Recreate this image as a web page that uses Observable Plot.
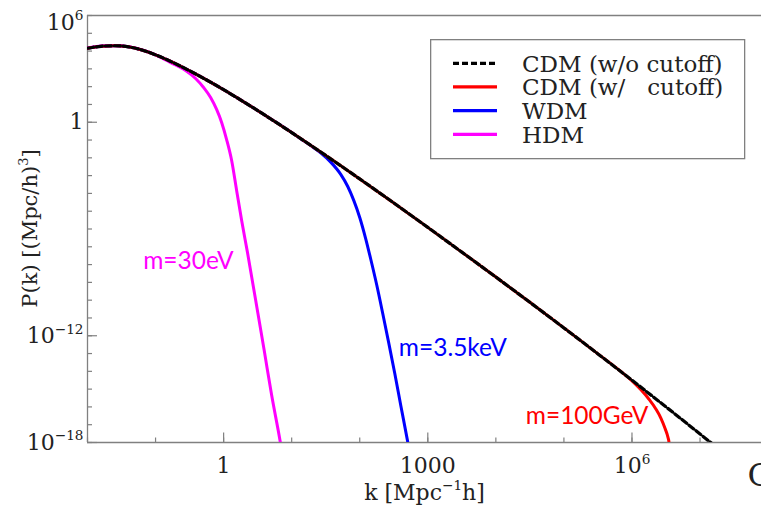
<!DOCTYPE html>
<html><head><meta charset="utf-8">
<script src="https://cdn.jsdelivr.net/npm/d3@7"></script>
<script src="https://cdn.jsdelivr.net/npm/@observablehq/plot@0.6"></script>
<style>
html,body{margin:0;padding:0;background:#fff;}
#chart{position:relative;width:761px;height:512px;overflow:hidden;background:#fff;}
#legend{position:absolute;left:430px;top:39px;}
#ytitle{position:absolute;left:0;top:0;pointer-events:none;}
</style></head><body><div id="chart"></div>
<script>
// ---- axes ----
const xDomain = [1e-2, 8e7];
const yDomain = [1e-18, 1e6];
const xMinorTicks = [1e-2, 1e-1, 1, 1e1, 1e2, 1e3, 1e4, 1e5, 1e6, 1e7];
const xMajorTicks = [1, 1e3, 1e6];
const xTickLabels = ["1", "1000", "10^{6}"];
const yMinorTicks = [1e-18, 1e-17, 1e-16, 1e-15, 1e-14, 1e-13, 1e-12, 1e-11, 1e-10, 1e-9, 1e-8, 1e-7, 1e-6, 1e-5, 1e-4, 1e-3, 1e-2, 1e-1, 1, 1e1, 1e2, 1e3, 1e4, 1e5, 1e6];
const yMajorTicks = [1, 1e-12, 1e-18];
const yMajorLabels = ["1", "10^{\u221212}", "10^{\u221218}"];
const yTopTick = [1e6];
const yTopLabel = ["10^{6}"];
const xTitle = "k [Mpc^{\u22121}h]";
const yTitle = "P(k) [(Mpc/h)^{3}]";

// ---- series (log10 k, log10 P) ----
const seriesNames = ["CDM (w/o cutoff)", "CDM (w/\u00A0\u00A0\u00A0cutoff)", "WDM", "HDM"];
const seriesColors = ["#000000", "#ff0000", "#0000ff", "#ff00ff"];

const cdmLogK = [-2.0, -1.8, -1.6, -1.4, -1.2, -1.0, -0.8, -0.6, -0.4, -0.2, 0.0, 0.2, 0.4, 0.7, 1.0, 1.3, 1.6, 2.0, 2.5, 3.0, 3.5, 4.0, 4.5, 5.0, 5.5, 6.0, 6.5, 7.0, 7.2];
const cdmLogP = [4.16, 4.27, 4.30, 4.24, 4.06, 3.79, 3.46, 3.09, 2.69, 2.27, 1.83, 1.37, 0.90, 0.17, -0.58, -1.345, -2.125, -3.185, -4.535, -5.91, -7.30, -8.70, -10.12, -11.56, -13.02, -14.50, -16.00, -17.52, -18.13];

const cutLogK = [-2.0, -1.8, -1.6, -1.4, -1.2, -1.0, -0.8, -0.6, -0.4, -0.2, 0.0, 0.2, 0.4, 0.7, 1.0, 1.3, 1.6, 2.0, 2.5, 3.0, 3.5, 4.0, 4.5, 5.0, 5.5, 5.84, 5.985, 6.132, 6.25, 6.353, 6.426, 6.485, 6.529, 6.544, 6.551];
const cutLogP = [4.16, 4.27, 4.30, 4.24, 4.06, 3.79, 3.46, 3.09, 2.69, 2.27, 1.83, 1.37, 0.90, 0.17, -0.58, -1.345, -2.125, -3.185, -4.535, -5.91, -7.30, -8.70, -10.12, -11.56, -13.02, -14.02, -14.48, -15.04, -15.57, -16.13, -16.64, -17.20, -17.71, -17.99, -18.44];

const wdmLogK = [-2.0, -1.8, -1.6, -1.4, -1.2, -1.0, -0.8, -0.6, -0.4, -0.2, 0.0, 0.2, 0.4, 0.7, 1.0, 1.132, 1.279, 1.426, 1.574, 1.721, 1.824, 1.912, 2.0, 2.088, 2.162, 2.25, 2.338, 2.426, 2.515, 2.603, 2.701, 2.721];
const wdmLogP = [4.16, 4.27, 4.30, 4.24, 4.06, 3.79, 3.46, 3.09, 2.69, 2.27, 1.83, 1.37, 0.90, 0.17, -0.58, -0.93, -1.31, -1.72, -2.24, -2.93, -3.61, -4.39, -5.35, -6.55, -7.70, -9.15, -10.75, -12.40, -14.12, -15.92, -17.88, -18.30];

const hdmLogK = [-2.0, -1.8, -1.6, -1.4, -1.2, -1.0, -0.853, -0.706, -0.559, -0.412, -0.294, -0.191, -0.103, -0.029, 0.044, 0.118, 0.191, 0.265, 0.353, 0.471, 0.596, 0.706, 0.828, 0.853];
const hdmLogP = [4.17, 4.29, 4.32, 4.25, 4.07, 3.79, 3.50, 3.22, 2.91, 2.46, 1.955, 1.39, 0.72, -0.01, -0.97, -2.15, -3.83, -5.52, -7.37, -10.01, -12.82, -15.35, -17.87, -18.43];

// ---- annotations (data units) ----
const annoLabels = ["m=30eV", "m=3.5keV", "m=100GeV"];
const annoLogK = [0.147, 2.574, 4.44];
const annoLogP = [-7.82, -12.71, -16.53];

const rows = (lk, lp) => lk.map((v, i) => ({k: 10 ** v, P: 10 ** lp[i]}));
const cdm = rows(cdmLogK, cdmLogP);
const cut = rows(cutLogK, cutLogP);
const wdm = rows(wdmLogK, wdmLogP);
const hdm = rows(hdmLogK, hdmLogP);
const annos = annoLabels.map((t, i) => ({text: t, k: 10 ** annoLogK[i], P: 10 ** annoLogP[i]}));

const axisGray = "#808080";
const serif = "DejaVu Serif";
const sans = "Lato";
const fmt = (vals, labels) => { const m = new Map(vals.map((v, i) => [v, labels[i]])); return d => m.get(d) ?? ""; };
const mL = 87, mT = 15, mB = 70, W = 761, H = 512;

const plot = Plot.plot({
  width: W, height: H,
  marginLeft: mL, marginRight: 0, marginTop: mT, marginBottom: mB,
  x: {type: "log", domain: xDomain},
  y: {type: "log", domain: yDomain},
  style: {fontFamily: serif, fontSize: "22px", color: "#222", background: "white", overflow: "visible"},
  marks: [
    // frame lines (left, bottom, top)
    Plot.ruleX([xDomain[0]], {stroke: axisGray, strokeWidth: 1.3}),
    Plot.ruleY(yDomain, {stroke: axisGray, strokeWidth: 1.3}),
    // inward ticks (drawn outward, then shifted inside by their own length)
    Plot.axisX(xMinorTicks, {anchor: "bottom", tickSize: 4.5, dy: -4.5, tickFormat: () => "", stroke: axisGray, strokeWidth: 1.2, label: null}),
    Plot.axisX(xMajorTicks, {anchor: "bottom", tickSize: 9.5, dy: -9.5, tickFormat: () => "", stroke: axisGray, strokeWidth: 1.2, label: null}),
    Plot.axisY(yMinorTicks, {anchor: "left", tickSize: 5, dx: 5, tickFormat: () => "", stroke: axisGray, strokeWidth: 1.2, label: null}),
    Plot.axisY(yMajorTicks, {anchor: "left", tickSize: 10, dx: 10, tickFormat: () => "", stroke: axisGray, strokeWidth: 1.2, label: null}),
    // tick labels
    Plot.axisX(xMajorTicks, {anchor: "bottom", tickSize: 0, tickPadding: 15, tickFormat: fmt(xMajorTicks, xTickLabels), fontSize: 22, fill: "#222", label: null}),
    Plot.axisY(yMajorTicks, {anchor: "left", tickSize: 0, tickPadding: 4, tickFormat: fmt(yMajorTicks, yMajorLabels), fontSize: 22, fill: "#222", label: null}),
    Plot.axisY(yTopTick, {anchor: "left", tickSize: 0, tickPadding: 4, dy: 7, tickFormat: fmt(yTopTick, yTopLabel), fontSize: 22, fill: "#222", label: null}),
    // x axis title
    Plot.text([xTitle], {frameAnchor: "bottom", dy: 57, text: d => d, textAnchor: "middle", fontSize: 22, fill: "#222"}),
    // curves
    Plot.line(hdm, {x: "k", y: "P", stroke: seriesColors[3], strokeWidth: 3, curve: "monotone-x", clip: true}),
    Plot.line(wdm, {x: "k", y: "P", stroke: seriesColors[2], strokeWidth: 3, curve: "monotone-x", clip: true}),
    Plot.line(cut, {x: "k", y: "P", stroke: seriesColors[1], strokeWidth: 3, curve: "monotone-x", clip: true}),
    Plot.line(cdm, {x: "k", y: "P", stroke: seriesColors[0], strokeWidth: 3.2, strokeDasharray: "6,3", curve: "monotone-x", clip: true}),
    // annotations
    Plot.text([annos[0]], {x: "k", y: "P", text: "text", textAnchor: "end", fill: seriesColors[3], fontFamily: sans, fontSize: 24.5}),
    Plot.text([annos[1]], {x: "k", y: "P", text: "text", textAnchor: "start", fill: seriesColors[2], fontFamily: sans, fontSize: 24.5}),
    Plot.text([annos[2]], {x: "k", y: "P", text: "text", textAnchor: "start", fill: seriesColors[1], fontFamily: sans, fontSize: 24.5}),
    // cut-off character at the slide edge
    Plot.text(["C"], {frameAnchor: "bottom-right", dx: -14, dy: 43, text: d => d, textAnchor: "start", fontSize: 32, fill: "#222"})
  ]
});

const chart = document.getElementById("chart");
chart.appendChild(plot);

// ---- y axis title (rotated, centred on the plot frame) ----
const yt = d3.select(chart).append("svg").attr("id", "ytitle").attr("width", 80).attr("height", H);
yt.append("text")
  .attr("transform", `translate(37,${(mT + (H - mB)) / 2}) rotate(-90)`)
  .attr("text-anchor", "middle")
  .attr("font-family", serif).attr("font-size", 21).attr("fill", "#222")
  .text(yTitle);

// ---- legend ----
const ns = "http://www.w3.org/2000/svg";
const lg = d3.select(chart).append("svg").attr("id", "legend").attr("width", 316).attr("height", 121);
lg.append("rect").attr("x", 0.65).attr("y", 0.65).attr("width", 314).attr("height", 119)
  .attr("fill", "white").attr("stroke", axisGray).attr("stroke-width", 1.3);
const rowY = [24.3, 47.8, 71.7, 95.3];
seriesNames.forEach((name, i) => {
  lg.append("line").attr("x1", 23).attr("x2", 67).attr("y1", rowY[i]).attr("y2", rowY[i])
    .attr("stroke", seriesColors[i]).attr("stroke-width", 3.2)
    .attr("stroke-dasharray", i === 0 ? "6,3" : null);
  lg.append("text").attr("x", 92).attr("y", rowY[i] + 8.4).text(name)
    .attr("font-family", serif).attr("font-size", 23).attr("fill", "#222");
});

// ---- superscripts: "a^{b}c" -> tspans ----
function applySup(root) {
  root.querySelectorAll("text").forEach(t => {
    const holders = t.querySelector("tspan") ? Array.from(t.querySelectorAll("tspan")) : [t];
    holders.forEach(el => {
      const s = el.textContent;
      if (!s.includes("^{")) return;
      const fs = parseFloat(getComputedStyle(el).fontSize) || 22;
      const parts = s.split(/\^\{([^}]*)\}/);
      el.textContent = "";
      let shifted = false;
      parts.forEach((p, i) => {
        if (p === "") return;
        const ts = document.createElementNS(ns, "tspan");
        ts.textContent = p;
        if (i % 2 === 1) {
          ts.setAttribute("font-size", (fs * 0.62).toFixed(1));
          ts.setAttribute("dy", (-fs * 0.42).toFixed(1));
          shifted = true;
        } else if (shifted) {
          ts.setAttribute("dy", (fs * 0.42).toFixed(1));
          shifted = false;
        }
        el.appendChild(ts);
      });
    });
  });
}
applySup(chart);
</script></body></html>
